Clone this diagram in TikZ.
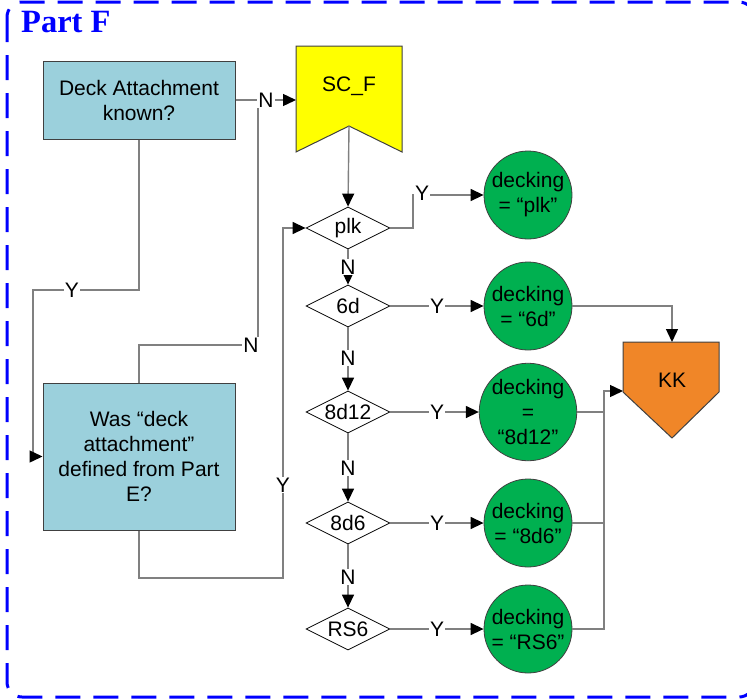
\documentclass[tikz,border=0pt]{standalone}
\usepackage{fontspec}
\setmainfont{Liberation Sans}
\newfontfamily\titlefont{Liberation Serif}
\usetikzlibrary{shapes.geometric,arrows.meta}
\definecolor{boxblue}{RGB}{155,208,220}
\definecolor{deckgreen}{RGB}{0,176,80}
\definecolor{kkorange}{RGB}{240,134,40}
\definecolor{scyellow}{RGB}{255,255,0}
\definecolor{linegray}{RGB}{128,128,128}
\definecolor{edgegray}{RGB}{64,64,64}
\begin{document}
\begin{tikzpicture}[x=1pt,y=-1pt,
  every node/.style={font=\fontsize{21}{25}\selectfont},
  question/.style={rectangle, draw=edgegray, line width=1pt, fill=boxblue,
    minimum width=192pt, align=center, inner sep=0pt},
  test/.style={diamond, draw=black, line width=0.8pt, fill=white, aspect=2,
    minimum width=84pt, minimum height=42pt, inner sep=0pt},
  result/.style={circle, draw=edgegray, line width=0.8pt, fill=deckgreen,
    minimum size=88pt, inner sep=0pt, align=center},
  conn/.style={draw=linegray, line width=1.4pt},
  arr/.style={-{Triangle[length=13pt,width=12pt,color=black]}},
  lbl/.style={fill=white, inner sep=1pt},
  shapeedge/.style={draw=edgegray, line width=1pt}]

\useasboundingbox (0,0) rectangle (747,699);

% dashed frame of the part
\draw[blue, line width=3pt, dash pattern=on 25pt off 13pt, rounded corners=15pt]
  (7,2) rectangle (754,697);
\node[anchor=base west, inner sep=0pt, text=blue,
  font=\titlefont\bfseries\fontsize{32.5}{36}\selectfont] (title) at (21,32) {Part F};

% question boxes
\node[question, minimum height=78pt] (q1) at (139,100) {Deck Attachment\\known?};
\node[question, minimum height=147pt] (q2) at (139,456.5)
  {Was “deck\\attachment”\\defined from Part\\E?};

% SC_F connector symbol
\filldraw[shapeedge, fill=scyellow] (296,46) -- (402,46) -- (402,152) -- (349,126)
  -- (296,152) -- cycle;
\node (scf) at (349,86) {SC\_F};
\coordinate (scfL) at (296,100);
\coordinate (scfB) at (349,126);

% KK off-page connector
\filldraw[shapeedge, fill=kkorange] (623,342) -- (719,342) -- (719,392) -- (672,438)
  -- (623,392) -- cycle;
\node (kk) at (672,380) {KK};
\coordinate (kkT) at (672,342);
\coordinate (kkL) at (623,391);

% decision chain
\node[test] (plk)  at (348,228) {plk};
\node[test] (d6)   at (348,306) {6d};
\node[test] (d812) at (348,412) {8d12};
\node[test] (d86)  at (348,523) {8d6};
\node[test] (rs6)  at (348,629) {RS6};

% decking results
\node[result] (cplk)  at (528,195) {decking\\= “plk”};
\node[result] (c6d)   at (528,306) {decking\\= “6d”};
\node[result] (c812)  at (528,412) {decking\\=\\“8d12”};
\node[result] (c86)   at (528,523) {decking\\= “8d6”};
\node[result] (crs6)  at (528,629) {decking\\= “RS6”};

% routing points
\coordinate (yleft) at (33,290);
\coordinate (nturn) at (258,345);
\coordinate (yright) at (283,578);
\coordinate (plkup) at (413,210);
\coordinate (bus) at (604,500);

% connectors
\draw[conn, arr] (q1.east) -- (scfL);
\draw[conn] (q2.north) |- (nturn) -- (nturn |- scfL);
\draw[conn, arr] (q1.south) |- (yleft) |- (q2.west);
\draw[conn, arr] (q2.south) |- (yright) |- (plk.west);
\draw[conn, arr] (scfB) -- (plk.north);
\draw[conn, arr] (plk.east) -| (plkup) |- (cplk.west);
\draw[conn, arr] (plk.south) -- (d6.north);
\draw[conn, arr] (d6.south) -- (d812.north);
\draw[conn, arr] (d812.south) -- (d86.north);
\draw[conn, arr] (d86.south) -- (rs6.north);
\draw[conn, arr] (d6.east) -- (c6d.west);
\draw[conn, arr] (d812.east) -- (c812.west);
\draw[conn, arr] (d86.east) -- (c86.west);
\draw[conn, arr] (rs6.east) -- (crs6.west);
\draw[conn, arr] (c6d.east) -| (kkT);
\draw[conn] (c812.east) -- (c812.east -| bus);
\draw[conn] (c86.east) -- (c86.east -| bus);
\draw[conn, arr] (crs6.east) -| (bus) |- (kkL);

% branch labels
\node[lbl] (lN1) at (266,100) {N};
\node[lbl] (lN2) at (251,345) {N};
\node[lbl] (lY1) at (72,290) {Y};
\node[lbl] (lY2) at (283,485) {Y};
\node[lbl] (lYp) at (422,193) {Y};
\node[lbl] (lNa) at (348,267) {N};
\node[lbl] (lNb) at (348,358) {N};
\node[lbl] (lNc) at (348,468) {N};
\node[lbl] (lNd) at (348,577) {N};
\node[lbl] (lYa) at (437,306) {Y};
\node[lbl] (lYb) at (437,412) {Y};
\node[lbl] (lYc) at (437,523) {Y};
\node[lbl] (lYd) at (437,629) {Y};
\end{tikzpicture}
\end{document}
